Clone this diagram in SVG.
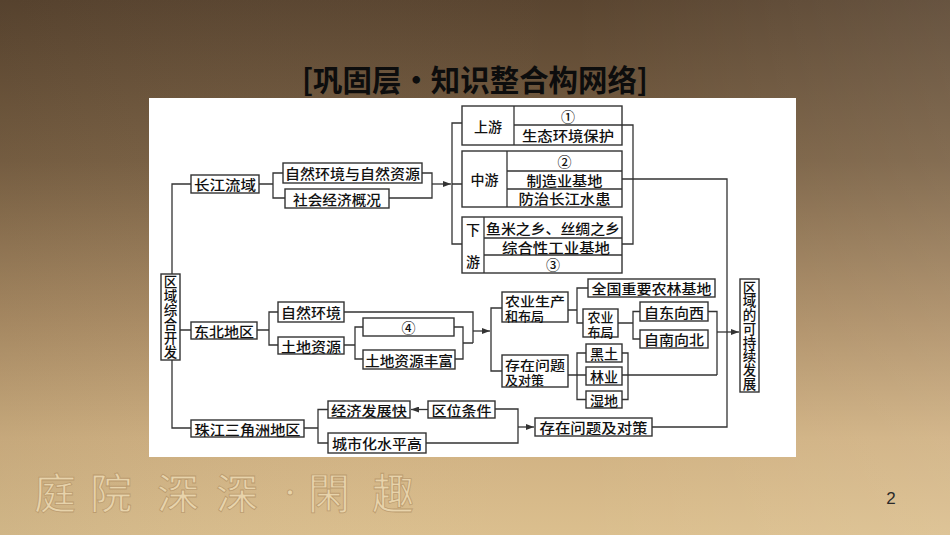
<svg xmlns="http://www.w3.org/2000/svg" width="950" height="535" viewBox="0 0 950 535">
<defs>
<linearGradient id="bg" x1="0" y1="0" x2="0" y2="1">
<stop offset="0" stop-color="#5a4530"/>
<stop offset="0.3" stop-color="#7a6144"/>
<stop offset="0.6" stop-color="#ad8e66"/>
<stop offset="0.82" stop-color="#d0b182"/>
<stop offset="1" stop-color="#dbbf8e"/>
</linearGradient>
<linearGradient id="bgh" x1="0" y1="0" x2="1" y2="0">
<stop offset="0" stop-color="#000" stop-opacity="0.05"/>
<stop offset="0.6" stop-color="#fff" stop-opacity="0"/>
<stop offset="1" stop-color="#fff" stop-opacity="0.08"/>
</linearGradient>
<marker id="ah" viewBox="0 0 8 6" refX="8" refY="3" markerWidth="8" markerHeight="6" markerUnits="userSpaceOnUse" orient="auto">
<path d="M0,0 L8,3 L0,6 z" fill="#333"/>
</marker>
<style>
.box{fill:#fff;stroke:#333;stroke-width:1.4}
.ln{fill:none;stroke:#333;stroke-width:1.3}
.t{font-family:"Noto Sans CJK SC","Noto Sans CJK TC",sans-serif;font-size:14px;font-weight:500;fill:#111;text-anchor:middle;dominant-baseline:central}
.tl{font-family:"Noto Sans CJK SC","Noto Sans CJK TC",sans-serif;font-size:13px;font-weight:500;fill:#111;dominant-baseline:central}
.tv{font-family:"Noto Sans CJK SC","Noto Sans CJK TC",sans-serif;font-size:13.5px;font-weight:500;fill:#111;writing-mode:vertical-rl;text-anchor:middle;dominant-baseline:central}
.deco{font-family:"Noto Sans CJK TC","Noto Sans CJK SC",sans-serif;font-size:42px;fill:#ecd9b2;stroke:#b8976a;stroke-width:0.8;text-anchor:middle;dominant-baseline:central;opacity:0.85}
</style>
</defs>
<rect width="950" height="535" fill="url(#bg)"/>
<rect width="950" height="535" fill="url(#bgh)"/>
<g id="title"><text x="475" y="78" textLength="346" lengthAdjust="spacingAndGlyphs" style="font-family:'Noto Sans CJK SC',sans-serif;font-size:30px;font-weight:bold;fill:#0d0d0d;text-anchor:middle;dominant-baseline:central">[巩固层·知识整合构网络]</text></g>
<g id="deco-bottom">
<text class="deco" x="55" y="490">庭</text>
<text class="deco" x="111" y="490">院</text>
<text class="deco" x="178" y="490">深</text>
<text class="deco" x="237" y="490">深</text>
<text class="deco" x="290" y="490" style="font-size:24px">·</text>
<text class="deco" x="329" y="490">閑</text>
<text class="deco" x="393" y="490">趣</text>
</g>
<g id="pagenum"><text x="891" y="498" style="font-family:'Liberation Sans',sans-serif;font-size:17px;fill:#2a2a2a;text-anchor:middle;dominant-baseline:central">2</text></g>
<rect x="149" y="98" width="647" height="359" fill="#fff"/>
<g id="connectors">
<path class="ln" d="M191,184 H172 V274 M172,360 V428 H191 M180,330 H191"/>
<path class="ln" d="M259,184 H273 M283,173 H273 V198 H285"/>
<path class="ln" d="M422,173 H432 V198 H389"/>
<path class="ln" d="M432,184 H451" marker-end="url(#ah)"/>
<path class="ln" d="M462,123 H452 V244 H462 M452,184 H462"/>
<path class="ln" d="M622,125 H633 V244 H622 M622,179 H727 V427 H652"/>
<path class="ln" d="M257,330 H269 M278,312 H269 V345 H278"/>
<path class="ln" d="M344,345 H355 M363,327 H355 V359 H363"/>
<path class="ln" d="M454,327 H463 V359 H455 M463,343 H473 M344,312 H473 V343"/>
<path class="ln" d="M473,331 H490" marker-end="url(#ah)"/>
<path class="ln" d="M502,308 H491 V371 H502"/>
<path class="ln" d="M568,310 H577 M588,288 H577 V323 H583"/>
<path class="ln" d="M618,323 H633 M640,311.5 H633 V339 H640"/>
<path class="ln" d="M708,311.5 H717 V375 M622,375 H717"/>
<path class="ln" d="M717,332 H739" marker-end="url(#ah)"/>
<path class="ln" d="M568,375 H586 M586,353 H577 V399.5 H586 M622,353 H628 V399.5 H622"/>
<path class="ln" d="M304,428 H318 M328,409.5 H318 V443 H328"/>
<path class="ln" d="M428,409.5 H411" marker-end="url(#ah)"/>
<path class="ln" d="M495,409 H518 V443 H426"/>
<path class="ln" d="M518,427 H534" marker-end="url(#ah)"/>
</g>
<g id="n_quyu"><rect class="box" x="161" y="274" width="19" height="86"/>
<text class="tv" x="170.5" y="317" textLength="84" lengthAdjust="spacingAndGlyphs">区域综合开发</text></g>
<g id="n_changjiang"><rect class="box" x="191" y="175" width="68" height="18"/><text class="t" x="225" y="184" textLength="62" lengthAdjust="spacingAndGlyphs">长江流域</text></g>
<g id="n_ziran1"><rect class="box" x="283" y="163" width="139" height="20"/><text class="t" x="352.5" y="173" textLength="135" lengthAdjust="spacingAndGlyphs">自然环境与自然资源</text></g>
<g id="n_shehui"><rect class="box" x="285" y="189" width="104" height="19"/><text class="t" x="337" y="198.5" textLength="88" lengthAdjust="spacingAndGlyphs">社会经济概况</text></g>
<g id="n_shangyou"><rect class="box" x="462" y="106" width="160" height="39"/><path class="ln" d="M514,106 V145 M514,125 H622"/>
<text class="t" x="488" y="125.5">上游</text><text class="t" x="568" y="115.5">①</text><text class="t" x="568" y="135" textLength="92" lengthAdjust="spacingAndGlyphs">生态环境保护</text></g>
<g id="n_zhongyou"><rect class="box" x="462" y="151" width="160" height="56"/><path class="ln" d="M507,151 V207 M507,171 H622 M507,189 H622"/>
<text class="t" x="484.5" y="179">中游</text><text class="t" x="564.5" y="161">②</text><text class="t" x="564.5" y="180" textLength="76" lengthAdjust="spacingAndGlyphs">制造业基地</text><text class="t" x="564.5" y="198" textLength="92" lengthAdjust="spacingAndGlyphs">防治长江水患</text></g>
<g id="n_xiayou"><rect class="box" x="462" y="217" width="160" height="56"/><path class="ln" d="M484,217 V273 M484,238 H622 M484,255 H622"/>
<text class="t" x="473" y="229">下</text><text class="t" x="473" y="261">游</text><text class="t" x="553" y="227.5" textLength="134" lengthAdjust="spacingAndGlyphs">鱼米之乡、丝绸之乡</text><text class="t" x="556" y="246.5" textLength="108" lengthAdjust="spacingAndGlyphs">综合性工业基地</text><text class="t" x="553" y="264">③</text></g>
<g id="n_dongbei"><rect class="box" x="191" y="322" width="66" height="17"/><text class="t" x="224" y="330.5" textLength="60" lengthAdjust="spacingAndGlyphs">东北地区</text></g>
<g id="n_zirhj"><rect class="box" x="278" y="302" width="66" height="20"/><text class="t" x="311" y="312" textLength="60" lengthAdjust="spacingAndGlyphs">自然环境</text></g>
<g id="n_tudi"><rect class="box" x="278" y="337" width="66" height="17"/><text class="t" x="311" y="345.5" textLength="60" lengthAdjust="spacingAndGlyphs">土地资源</text></g>
<g id="n_four"><rect class="box" x="363" y="318" width="91" height="18"/><text class="t" x="408.5" y="327">④</text></g>
<g id="n_tudifeng"><rect class="box" x="363" y="350" width="92" height="19"/><text class="t" x="409" y="359.5" textLength="88" lengthAdjust="spacingAndGlyphs">土地资源丰富</text></g>
<g id="n_nongye"><rect class="box" x="502" y="292" width="66" height="30"/><text class="tl"><tspan x="505" y="299.5" textLength="60" lengthAdjust="spacingAndGlyphs">农业生产</tspan><tspan x="505" y="314.5">和布局</tspan></text></g>
<g id="n_cunzai1"><rect class="box" x="502" y="355" width="66" height="32"/><text class="tl"><tspan x="505" y="363.5" textLength="60" lengthAdjust="spacingAndGlyphs">存在问题</tspan><tspan x="505" y="378.5">及对策</tspan></text></g>
<g id="n_quanguo"><rect class="box" x="588" y="279" width="127" height="18"/><text class="t" x="651.5" y="288" textLength="120" lengthAdjust="spacingAndGlyphs">全国重要农林基地</text></g>
<g id="n_nybj"><rect class="box" x="583" y="309" width="35" height="28"/><text class="t" style="font-size:13px"><tspan x="600.5" y="316">农业</tspan><tspan x="600.5" y="330.5">布局</tspan></text></g>
<g id="n_dongxi"><rect class="box" x="640" y="302" width="68" height="19"/><text class="t" x="674" y="311.5" textLength="60" lengthAdjust="spacingAndGlyphs">自东向西</text></g>
<g id="n_nanbei"><rect class="box" x="640" y="330" width="68" height="18"/><text class="t" x="674" y="339" textLength="60" lengthAdjust="spacingAndGlyphs">自南向北</text></g>
<g id="n_heitu"><rect class="box" x="586" y="344" width="36" height="18"/><text class="t" x="604" y="353">黑土</text></g>
<g id="n_linye"><rect class="box" x="586" y="367" width="36" height="18"/><text class="t" x="604" y="376">林业</text></g>
<g id="n_shidi"><rect class="box" x="586" y="391" width="36" height="17"/><text class="t" x="604" y="399.5">湿地</text></g>
<g id="n_kechixu"><rect class="box" x="740" y="279" width="19" height="113"/>
<text class="tv" x="749.5" y="335.5" textLength="110" lengthAdjust="spacingAndGlyphs">区域的可持续发展</text></g>
<g id="n_zhujiang"><rect class="box" x="191" y="420" width="113" height="17"/><text class="t" x="247.5" y="428.5" textLength="106" lengthAdjust="spacingAndGlyphs">珠江三角洲地区</text></g>
<g id="n_jingji"><rect class="box" x="328" y="401" width="82" height="17"/><text class="t" x="369" y="409.5" textLength="76" lengthAdjust="spacingAndGlyphs">经济发展快</text></g>
<g id="n_chengshi"><rect class="box" x="328" y="433" width="98" height="20"/><text class="t" x="377" y="443" textLength="90" lengthAdjust="spacingAndGlyphs">城市化水平高</text></g>
<g id="n_quwei"><rect class="box" x="428" y="401" width="67" height="17"/><text class="t" x="461.5" y="409.5" textLength="60" lengthAdjust="spacingAndGlyphs">区位条件</text></g>
<g id="n_cunzai2"><rect class="box" x="535" y="418" width="117" height="18"/><text class="t" x="593.5" y="427" textLength="108" lengthAdjust="spacingAndGlyphs">存在问题及对策</text></g>
</svg>
